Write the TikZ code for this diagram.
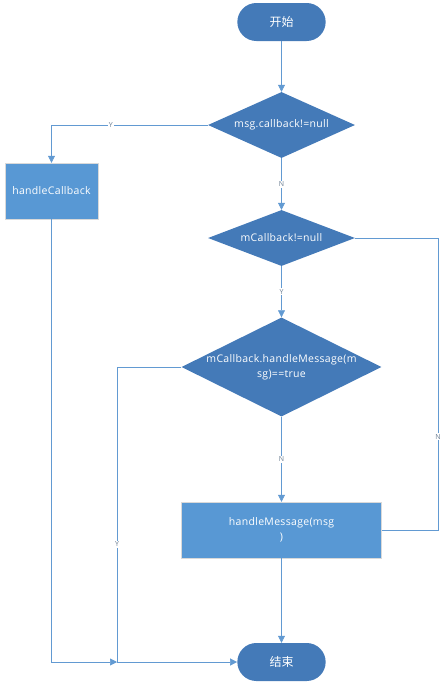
\documentclass[tikz,border=0pt]{standalone}
\usepackage{fontspec}
\setmainfont{Open Sans}
\newfontfamily\boxfont[LetterSpace=3]{Open Sans}
\newfontfamily\cjk{Noto Sans CJK SC}
\usetikzlibrary{shapes.geometric}
\usetikzlibrary{shapes.misc}
\usetikzlibrary{arrows.meta}

\definecolor{darkfill}{RGB}{68,122,184}
\definecolor{lightfill}{RGB}{88,152,212}
\definecolor{wire}{RGB}{98,154,210}
\definecolor{tagtext}{RGB}{110,128,148}

\tikzset{
  terminal/.style={rounded rectangle,fill=darkfill,draw=none,text=white,minimum width=95pt,minimum height=38pt,font=\cjk\fontsize{12}{14}\selectfont},
  decision/.style={diamond,fill=darkfill,draw=none,text=white,inner sep=0pt,align=center,font=\boxfont\fontsize{10.5}{15}\selectfont},
  process/.style={rectangle,fill=lightfill,draw=black!15,thin,text=white,align=center,font=\boxfont\fontsize{10.5}{15}\selectfont},
  flow/.style={wire,line width=0.6pt,-{Triangle[width=7pt,length=7pt]}},
  wireonly/.style={wire,line width=0.6pt},
  tag/.style={fill=white,inner sep=1pt,text=tagtext,font=\fontsize{7}{8}\selectfont}
}

\begin{document}
\begin{tikzpicture}[x=1pt,y=-1pt]
\useasboundingbox (0,0) rectangle (447,689);

% nodes
\node[terminal] (start) at (281.5,22) {开始};
\node[decision,aspect=2.2,minimum width=147pt,minimum height=66pt] (cond1) at (281.5,125) {msg.callback!=null};
\node[process,minimum width=93pt,minimum height=56pt] (callback) at (51.5,191) {handleCallback};
\node[decision,aspect=2.6,minimum width=147pt,minimum height=56pt] (cond2) at (281.5,238) {mCallback!=null};
\node[decision,aspect=2,minimum width=200pt,minimum height=99pt,inner xsep=-16pt,inner ysep=-6pt] (cond3) at (281.5,367) {mCallback.handleMessage(m\\sg)==true};
\node[process,minimum width=200pt,minimum height=56pt] (handle) at (281.5,530) {handleMessage(msg\\)};
\node[terminal] (stop) at (281.5,662) {结束};

\coordinate (rightturn) at (438,530);
\coordinate (join) at (117,662);

% connectors
\draw[flow] (start) -- (cond1);
\draw[flow] (cond1.west) -| node[tag,pos=0.31] {Y} (callback.north);
\draw[flow] (cond1) -- node[tag] {N} (cond2);
\draw[flow] (cond2) -- node[tag] {Y} (cond3);
\draw[wireonly] (cond2.east) -| node[tag,pos=0.84] {N} (rightturn) -- (handle.east);
\draw[flow] (cond3) -- node[tag] {N} (handle);
\draw[flow] (handle) -- (stop);
\draw[flow] (cond3.west) -| node[tag,pos=0.8] {Y} (join) -- (stop.west);
\draw[flow] (callback.south) |- (join);

\end{tikzpicture}
\end{document}
